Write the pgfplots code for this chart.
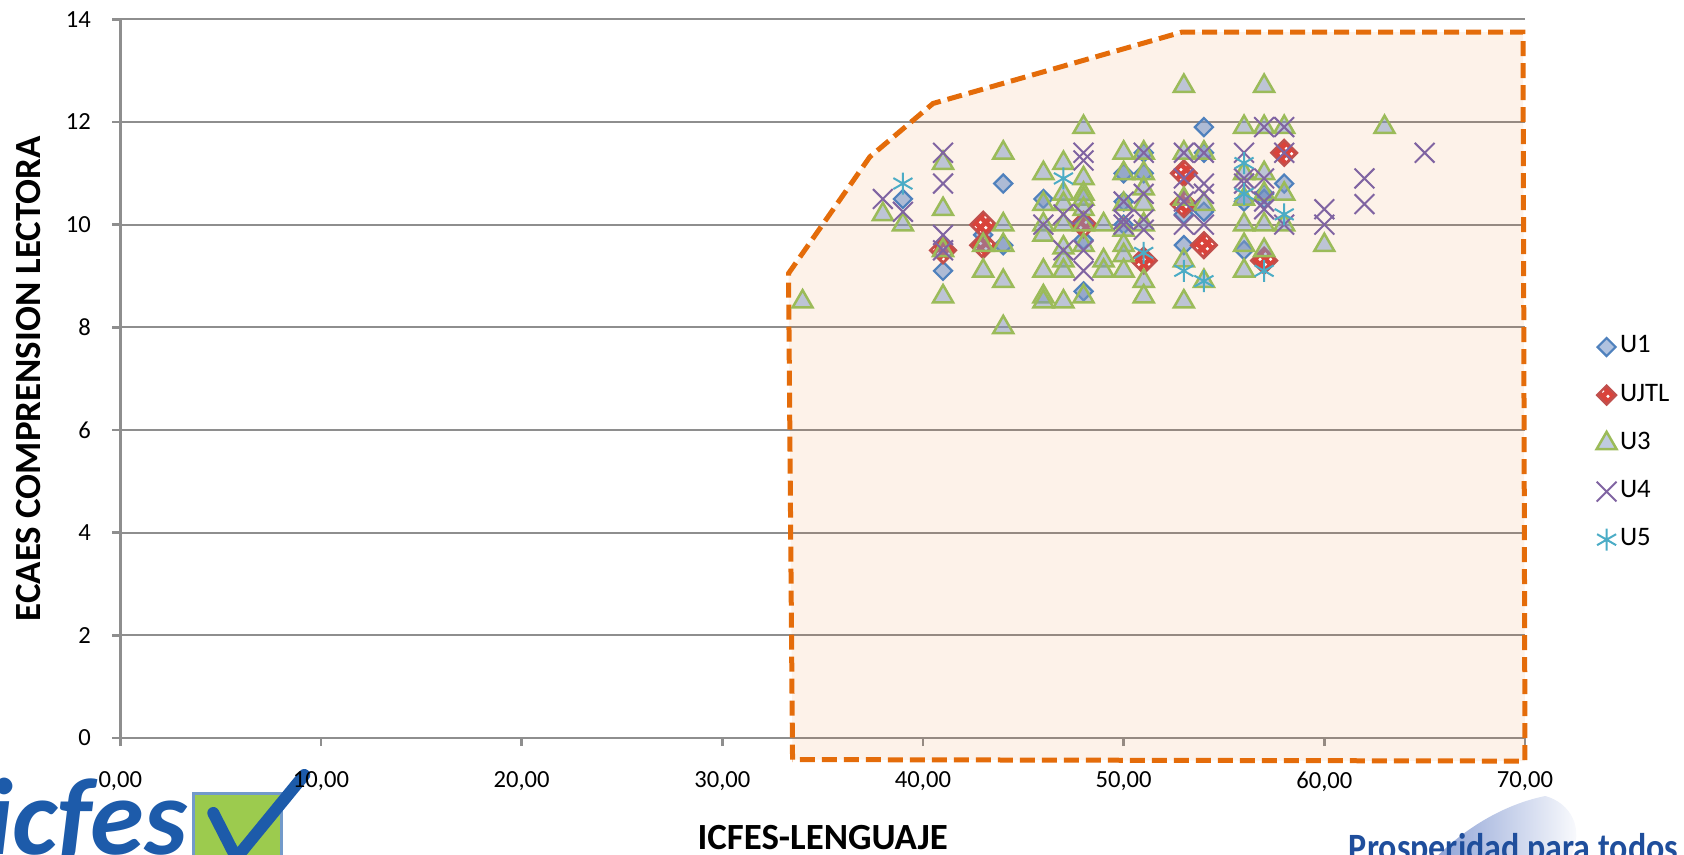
\documentclass[border=0pt]{standalone}
\usepackage{pgfplots}
\pgfplotsset{compat=1.18}
\usetikzlibrary{patterns}
\usepackage{fontspec}
\setmainfont{Carlito}
\definecolor{gridc}{HTML}{8E8E8E}
\definecolor{orng}{HTML}{E46C0A}
\definecolor{uone}{HTML}{4F81BD}
\definecolor{uonefill}{HTML}{6F8FC5}
\definecolor{ujtl}{HTML}{C0504D}
\definecolor{ujtlfill}{HTML}{D9433B}
\definecolor{uthree}{HTML}{9BBB59}
\definecolor{uthreefill}{HTML}{7F97C2}
\definecolor{ufour}{HTML}{8064A2}
\definecolor{ufive}{HTML}{4BACC6}
\definecolor{logoblue}{HTML}{1D5BAA}
\definecolor{logogreen}{HTML}{9CCB4E}
\definecolor{prosblue}{HTML}{1F4E9C}
\definecolor{swoosh}{HTML}{8FA3D6}

\pgfdeclareplotmark{ujtl}{%
  \pgfpathmoveto{\pgfqpoint{0pt}{\pgfplotmarksize}}%
  \pgfpathlineto{\pgfqpoint{\pgfplotmarksize}{0pt}}%
  \pgfpathlineto{\pgfqpoint{0pt}{-\pgfplotmarksize}}%
  \pgfpathlineto{\pgfqpoint{-\pgfplotmarksize}{0pt}}%
  \pgfpathclose
  \pgfusepathqfillstroke
  \begin{pgfscope}%
  \pgfsetfillpattern{crosshatch dots}{white}%
  \pgfpathmoveto{\pgfqpoint{0pt}{0.8\pgfplotmarksize}}%
  \pgfpathlineto{\pgfqpoint{0.8\pgfplotmarksize}{0pt}}%
  \pgfpathlineto{\pgfqpoint{0pt}{-0.8\pgfplotmarksize}}%
  \pgfpathlineto{\pgfqpoint{-0.8\pgfplotmarksize}{0pt}}%
  \pgfpathclose
  \pgfusepathqfill
  \end{pgfscope}%
}

\begin{document}
\begin{tikzpicture}
% logos (drawn first, so the tick labels lie over them)
\node[anchor=base west, text=logoblue, font=\fontsize{31}{31}\selectfont\bfseries\itshape, inner sep=0] at (-13.5mm,-11.6mm) {icfes};
\filldraw[fill=logogreen, draw=uone!80, line width=0.3mm] (7.3mm,-5.5mm) rectangle (16.1mm,-13mm);
\draw[logoblue, line width=1.2mm, line cap=round, line join=round] (9.3mm,-7.5mm) -- (11.6mm,-12.0mm) -- (18.4mm,-3.7mm);
\shade[left color=swoosh, right color=white] (131.5mm,-12mm) .. controls (135mm,-8.5mm) and (139mm,-6.5mm) .. (142.5mm,-5.8mm) .. controls (145mm,-6.5mm) and (146.5mm,-9mm) .. (145mm,-12mm) -- cycle;
\node[anchor=base west, text=prosblue, font=\fontsize{11}{11}\selectfont\bfseries, inner sep=0, xscale=0.88, transform shape] at (122.8mm,-12.2mm) {Prosperidad para todos};

\begin{axis}[
  at={(0,0)}, anchor=south west,
  scale only axis, width=140.47mm, height=71.87mm,
  xmin=0, xmax=70, ymin=0, ymax=14,
  clip=false,
  axis x line*=bottom, axis y line*=left,
  axis line style={gridc, line width=0.25mm, -},
  xtick={0,10,...,70}, ytick={0,2,...,14},
  tick align=outside, major tick length=0.8mm,
  tick style={gridc, line width=0.25mm},
  ymajorgrids, grid style={gridc, line width=0.22mm},
  /pgf/number format/assume math mode=true,
  xticklabel style={font=\fontsize{7}{8}\selectfont, yshift=-1.3mm, /pgf/number format/.cd, fixed, fixed zerofill, precision=2, use comma},
  yticklabel style={font=\fontsize{7}{8}\selectfont, xshift=-0.9mm},
  xlabel={ICFES-LENGUAJE}, ylabel={ECAES COMPRENSION LECTORA},
  xlabel style={font=\fontsize{10.5}{12}\selectfont\bfseries, at={([yshift=-10mm]axis description cs:0.5,0)}, anchor=center},
  ylabel style={font=\fontsize{10.5}{12}\selectfont\bfseries, at={([xshift=-9.13mm]axis description cs:0,0.5)}, anchor=center},
  legend style={draw=none, fill=none, at={(1.0505,0.41)}, anchor=west, font=\fontsize{7.6}{9}\selectfont, row sep=1.87mm, inner sep=0pt, nodes={inner sep=0.35mm}},
  legend cell align=left,
  legend image code/.code={\draw[#1] plot coordinates {(0.1cm,0cm)};},
]
% highlighted region
\addplot[draw=none, fill=orng, fill opacity=0.09, forget plot] coordinates {
 (33.5,-0.42) (33.3,9.05) (37.35,11.32) (40.5,12.36) (52.9,13.75) (69.9,13.75) (70.0,-0.45)} --cycle;
\addplot[orng, line width=0.5mm, dash pattern=on 1.5mm off 0.7mm, forget plot] coordinates {
 (33.5,-0.42) (33.3,9.05) (37.35,11.32) (40.5,12.36) (52.9,13.75) (69.9,13.75) (70.0,-0.45)} --cycle;

% U1
\addplot[only marks, mark=square*, mark size=0.64mm, mark options={rotate=45, draw=uone, fill=uonefill, fill opacity=0.55, line width=0.22mm}] coordinates {
(39,10.5) (41,9.1) (43,9.8) (44,10.8) (44,9.6) (46,10.5) (48,9.7) (48,8.7)
(50,11.0) (50,10.45) (50,10.0) (51,11.4) (51,11.0) (53,10.2) (53,9.6) (54,11.9)
(54,11.4) (54,10.25) (56,10.45) (56,9.5) (57,10.6) (57,10.5) (58,10.8)};
\addlegendentry{U1}

% UJTL
\addplot[only marks, mark=ujtl, mark size=1.3mm, mark options={draw=ujtl, fill=ujtlfill, line width=0.22mm},
  legend image post style={mark size=0.95mm}] coordinates {
(41,9.5) (43,10.0) (43,9.6) (48,10.0) (51,9.3) (53,11.0) (53,10.4) (54,9.6) (57,9.3) (58,11.4)};
\addlegendentry{UJTL}

% U3
\addplot[only marks, mark=triangle*, mark size=1.15mm, mark options={draw=uthree, fill=uthreefill, fill opacity=0.5, line width=0.25mm}] coordinates {
(34,8.5) (38,10.2) (39,10.0)
(41,11.2) (41,10.3) (41,9.5) (41,8.6)
(43,9.6) (43,9.1)
(44,11.4) (44,10.0) (44,9.6) (44,8.9) (44,8.0)
(46,11.0) (46,10.4) (46,10.0) (46,9.8) (46,9.1) (46,8.6) (46,8.5)
(47,11.2) (47,10.6) (47,10.4) (47,10.0) (47,9.55) (47,9.3) (47,9.1) (47,8.5)
(48,11.9) (48,10.9) (48,10.6) (48,10.5) (48,10.3) (48,10.0) (48,9.6) (48,8.6)
(49,10.0) (49,9.3) (49,9.1)
(50,11.4) (50,11.0) (50,10.4) (50,9.9) (50,9.6) (50,9.4) (50,9.1)
(51,11.4) (51,11.0) (51,10.7) (51,10.4) (51,10.0) (51,8.9) (51,8.6)
(53,12.7) (53,11.4) (53,10.5) (53,9.3) (53,8.5)
(54,11.4) (54,10.4) (54,8.9)
(56,11.9) (56,11.0) (56,10.5) (56,10.0) (56,9.6) (56,9.1)
(57,12.7) (57,11.9) (57,11.0) (57,10.6) (57,10.0) (57,9.5)
(58,11.9) (58,10.6) (58,10.0)
(60,9.6) (63,11.9)};
\addlegendentry{U3}

% U4
\addplot[only marks, mark=x, mark size=1.4mm, mark options={draw=ufour, line width=0.2mm}] coordinates {
(38,10.5) (39,10.25) (41,11.4) (41,10.8) (41,9.8) (41,9.5)
(46,10.0) (47,10.2) (47,9.5)
(48,11.4) (48,11.25) (48,10.2) (48,9.5) (48,9.1)
(50,10.45) (50,10.1) (50,10.0)
(51,11.4) (51,10.6) (51,10.1) (51,9.9)
(53,11.4) (53,10.9) (53,10.45) (53,10.0)
(54,11.4) (54,10.8) (54,10.6) (54,10.0)
(56,11.4) (56,10.9) (56,10.8)
(57,11.9) (57,10.9) (57,10.45) (57,10.3)
(58,11.9) (58,11.4) (58,10.0)
(60,10.3) (60,10.0) (62,10.9) (62,10.4) (65,11.4)};
\addlegendentry{U4}

% U5
\addplot[only marks, mark=asterisk, mark size=1.1mm, mark options={draw=ufive, line width=0.2mm}] coordinates {
(39,10.8) (47,10.9) (51,9.45) (53,9.1) (54,8.9) (56,11.2) (56,10.6) (57,9.1) (58,10.2)};
\addlegendentry{U5}
\end{axis}

\pgfresetboundingbox
\useasboundingbox (-12.03mm,-11.7mm) rectangle (156.37mm,73.8mm);
\end{tikzpicture}
\end{document}
